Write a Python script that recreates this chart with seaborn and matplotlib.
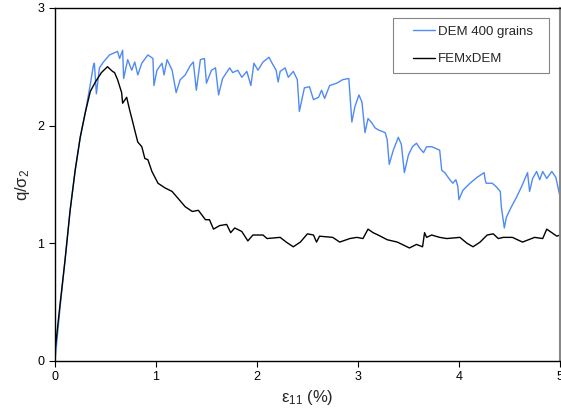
import numpy as np
import pandas as pd
import matplotlib
matplotlib.use("Agg")
import matplotlib.pyplot as plt
import seaborn as sns
from matplotlib.legend_handler import HandlerLine2D

# DEM 400 grains
dem_x = [0.00, 0.05, 0.10, 0.15, 0.20, 0.25, 0.30, 0.35, 0.38, 0.39, 0.41, 0.44, 0.48,
         0.54, 0.62, 0.64, 0.67, 0.68, 0.72, 0.76, 0.79, 0.82, 0.86, 0.92, 0.97, 0.98,
         1.01, 1.06, 1.08, 1.11, 1.16, 1.20, 1.24, 1.29, 1.34, 1.37, 1.40, 1.44, 1.48,
         1.50, 1.55, 1.59, 1.62, 1.66, 1.73, 1.76, 1.81, 1.85, 1.90, 1.94, 1.97, 2.01,
         2.06, 2.12, 2.15, 2.19, 2.21, 2.23, 2.28, 2.31, 2.36, 2.40, 2.42, 2.47, 2.52,
         2.56, 2.61, 2.64, 2.67, 2.72, 2.79, 2.85, 2.91, 2.94, 2.97, 3.01, 3.04, 3.07,
         3.10, 3.14, 3.17, 3.21, 3.27, 3.29, 3.31, 3.35, 3.40, 3.43, 3.46, 3.50, 3.54,
         3.58, 3.61, 3.65, 3.68, 3.73, 3.76, 3.81, 3.83, 3.86, 3.91, 3.94, 3.97, 3.99,
         4.00, 4.04, 4.11, 4.18, 4.25, 4.26, 4.27, 4.33, 4.37, 4.41, 4.42, 4.45, 4.47,
         4.52, 4.57, 4.62, 4.68, 4.70, 4.73, 4.77, 4.80, 4.83, 4.87, 4.92, 4.96, 4.99,
         5.00]
dem_y = [0.00, 0.45, 0.86, 1.28, 1.62, 1.90, 2.11, 2.35, 2.51, 2.53, 2.27, 2.49, 2.54,
         2.60, 2.63, 2.57, 2.64, 2.40, 2.56, 2.47, 2.54, 2.43, 2.53, 2.60, 2.57, 2.34,
         2.47, 2.53, 2.43, 2.56, 2.47, 2.28, 2.39, 2.43, 2.51, 2.54, 2.30, 2.56, 2.57,
         2.36, 2.47, 2.49, 2.26, 2.40, 2.49, 2.45, 2.47, 2.41, 2.46, 2.34, 2.53, 2.47,
         2.54, 2.58, 2.53, 2.47, 2.37, 2.46, 2.49, 2.41, 2.46, 2.39, 2.12, 2.32, 2.33,
         2.22, 2.24, 2.30, 2.23, 2.34, 2.36, 2.39, 2.40, 2.03, 2.16, 2.26, 2.20, 1.94,
         2.06, 2.02, 1.98, 1.96, 1.94, 1.88, 1.67, 1.79, 1.90, 1.84, 1.60, 1.75, 1.82,
         1.85, 1.81, 1.77, 1.82, 1.82, 1.81, 1.79, 1.62, 1.60, 1.54, 1.51, 1.54, 1.48,
         1.37, 1.45, 1.51, 1.56, 1.60, 1.54, 1.51, 1.51, 1.48, 1.44, 1.31, 1.13, 1.22,
         1.31, 1.39, 1.48, 1.60, 1.44, 1.55, 1.61, 1.54, 1.61, 1.55, 1.61, 1.56, 1.44,
         1.40]

# FEMxDEM
fem_x = [0.00, 0.05, 0.10, 0.15, 0.20, 0.25, 0.30, 0.35, 0.40, 0.46, 0.52, 0.57, 0.59,
         0.62, 0.66, 0.67, 0.71, 0.74, 0.77, 0.79, 0.82, 0.86, 0.89, 0.92, 0.96, 1.02,
         1.09, 1.16, 1.22, 1.29, 1.36, 1.42, 1.49, 1.53, 1.57, 1.63, 1.70, 1.74, 1.78,
         1.85, 1.91, 1.96, 2.06, 2.10, 2.23, 2.29, 2.36, 2.43, 2.50, 2.56, 2.59, 2.62,
         2.75, 2.82, 2.92, 2.99, 3.05, 3.10, 3.15, 3.20, 3.29, 3.39, 3.51, 3.58, 3.64,
         3.66, 3.68, 3.73, 3.81, 3.88, 4.01, 4.08, 4.14, 4.21, 4.28, 4.34, 4.39, 4.44,
         4.53, 4.63, 4.75, 4.83, 4.87, 4.92, 4.97, 5.00]
fem_y = [0.08, 0.48, 0.86, 1.28, 1.62, 1.90, 2.11, 2.29, 2.37, 2.45, 2.50, 2.46, 2.45,
         2.39, 2.28, 2.19, 2.24, 2.13, 2.03, 1.96, 1.86, 1.82, 1.72, 1.71, 1.61, 1.51,
         1.47, 1.44, 1.38, 1.31, 1.27, 1.28, 1.20, 1.20, 1.12, 1.15, 1.16, 1.09, 1.13,
         1.10, 1.02, 1.07, 1.07, 1.04, 1.05, 1.01, 0.97, 1.01, 1.08, 1.07, 1.01, 1.06,
         1.05, 1.01, 1.04, 1.05, 1.04, 1.12, 1.09, 1.07, 1.03, 1.01, 0.96, 0.99, 0.97,
         1.09, 1.05, 1.07, 1.05, 1.04, 1.05, 1.00, 0.97, 1.01, 1.07, 1.08, 1.04, 1.05,
         1.05, 1.01, 1.05, 1.04, 1.12, 1.09, 1.06, 1.07]

df = pd.concat([
    pd.DataFrame({"x": dem_x, "y": dem_y, "series": "DEM 400 grains"}),
    pd.DataFrame({"x": fem_x, "y": fem_y, "series": "FEMxDEM"}),
], ignore_index=True)

sns.set_style("white")
plt.rcParams['font.family'] = ['Liberation Sans', 'DejaVu Sans']
plt.rcParams['mathtext.fontset'] = 'custom'
plt.rcParams['mathtext.rm'] = 'Liberation Sans'
plt.rcParams['mathtext.it'] = 'Liberation Sans'

fig = plt.figure(figsize=(5.61, 4.13), dpi=100)
ax = fig.add_axes([0.098, 0.126, 0.9, 0.855])

sns.lineplot(data=df, x="x", y="y", hue="series", sort=False, estimator=None,
             palette={"DEM 400 grains": "#4f8af5", "FEMxDEM": "black"},
             linewidth=1.0, ax=ax)

ax.set_xlim(0, 5)
ax.set_ylim(0, 3)
ax.set_xticks([0, 1, 2, 3, 4, 5])
ax.set_yticks([0, 1, 2, 3])
ax.tick_params(axis='both', direction='out', length=4, width=0.8, labelsize=9,
               bottom=True, left=True, colors='black')
for s in ax.spines.values():
    s.set_color('black')
    s.set_linewidth(1.0)
ax.spines['right'].set_color('#888888')
ax.spines['right'].set_linewidth(1.5)

ax.set_xlabel(r'$\mathregular{ε_{11}}$ (%)', fontsize=12, labelpad=3)
ax.set_ylabel(r'q/$\mathregular{σ_{2}}$', fontsize=12, labelpad=4)

# legend box spans roughly x 393-549 px, top at 18 px
leg = ax.legend(loc='upper left', bbox_to_anchor=(0.669, 0.972, 0.309, 0.0),
                mode='expand', borderaxespad=0, fontsize=9.5,
                frameon=True, fancybox=False, edgecolor='#666666',
                handlelength=2.6, labelspacing=1.15, borderpad=0.6, handletextpad=0.2,
                handler_map={ln: HandlerLine2D(xpad=0.9) for ln in ax.get_lines()})
leg.get_frame().set_linewidth(0.8)

fig.savefig("out.png", dpi=100)
